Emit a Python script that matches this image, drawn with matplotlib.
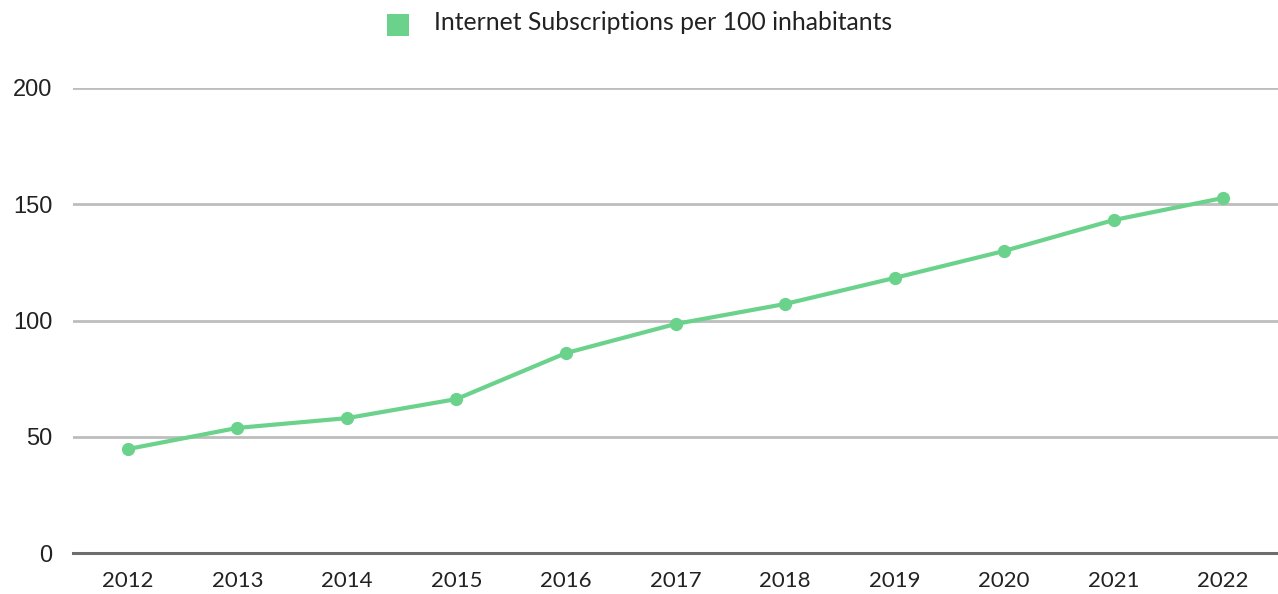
import numpy as np
import matplotlib.pyplot as plt
from matplotlib.patches import Rectangle

years = ['2012', '2013', '2014', '2015', '2016', '2017', '2018', '2019', '2020', '2021', '2022']
subscriptions = [44.7, 53.8, 58.0, 66.2, 86.0, 98.5, 107.1, 118.3, 129.9, 143.2, 152.7]
y_ticks = [0, 50, 100, 150, 200]
series_name = 'Internet Subscriptions per 100 inhabitants'

green = '#6bd28c'

fig = plt.figure(figsize=(12.78, 5.94), dpi=100)
ax = fig.add_axes([73 / 1278, 41 / 594, 1 - 73 / 1278, 465 / 594])

x = np.arange(len(years))
ax.plot(x, subscriptions, color=green, linewidth=3, marker='o', markersize=8.5,
        solid_capstyle='round', zorder=3, clip_on=False)

ax.set_xlim(-0.5, len(years) - 0.5)
ax.set_ylim(0, 200)
ax.set_yticks(y_ticks)
ax.set_xticks(x)
ax.set_xticklabels(years, family='Lato', fontsize=16, color='#222222')
ax.set_yticklabels([str(v) for v in y_ticks], family='Liberation Sans', fontsize=17, color='#222222')
ax.tick_params(axis='both', length=0)
ax.tick_params(axis='x', pad=13)
ax.tick_params(axis='y', pad=15)

for v in y_ticks[1:]:
    ax.axhline(v, color='#bdbdbd', linewidth=2.0, zorder=1)
ax.axhline(0, color='#6e6e6e', linewidth=2.2, zorder=2, clip_on=False)

for side in ax.spines.values():
    side.set_visible(False)

# legend drawn by hand above the plot
fig.patches.append(Rectangle((387 / 1278, 1 - 36 / 594), 22 / 1278, 22 / 594,
                             transform=fig.transFigure, facecolor=green,
                             edgecolor='none'))
fig.text(434 / 1278, 1 - 23 / 594, series_name, family='Lato', fontsize=17.8,
         color='#222222', va='center', ha='left')

fig.savefig('out.png', dpi=100)
